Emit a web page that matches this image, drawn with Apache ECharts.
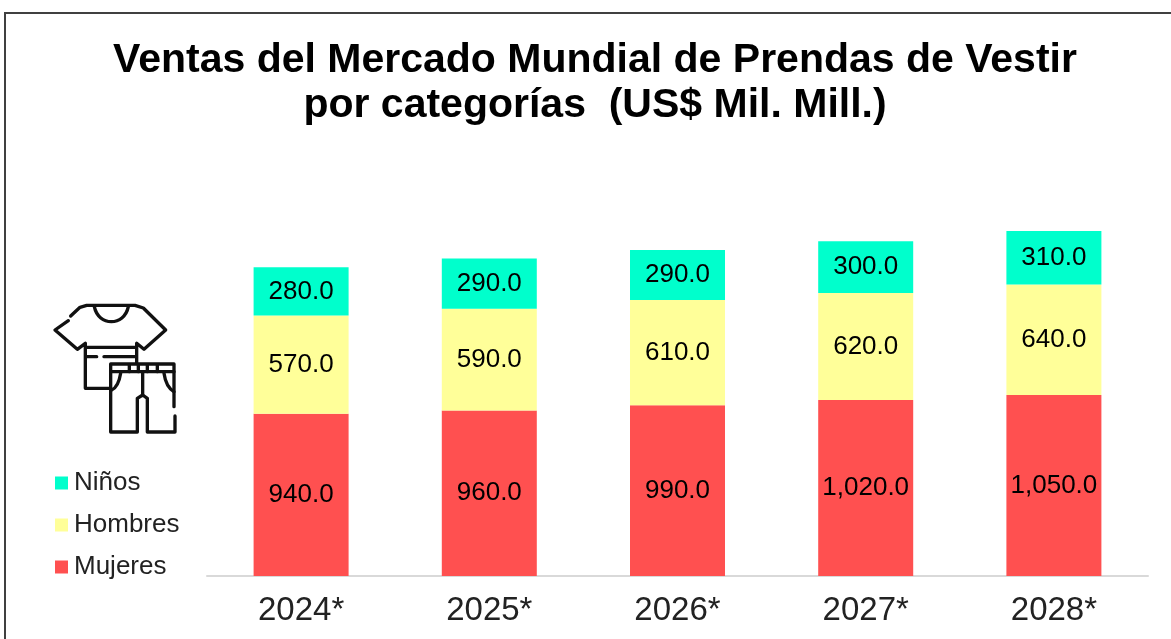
<!DOCTYPE html>
<html><head><meta charset="utf-8">
<style>html,body{margin:0;padding:0;background:#fff}#c{width:1171px;height:639px}</style>
<script src="https://cdn.jsdelivr.net/npm/echarts@6/dist/echarts.min.js"></script></head>
<body><div id="c"></div>
<script>
const categories = ['2024*','2025*','2026*','2027*','2028*'];
const mujeres = [940,960,990,1020,1050];
const hombres = [570,590,610,620,640];
const ninos = [280,290,290,300,310];
const legendOrder = ['Niños','Hombres','Mujeres'];
const titleText = 'Ventas del Mercado Mundial de Prendas de Vestir\npor categorías  (US$ Mil. Mill.)';
const FONT = '"Liberation Sans", Arial, sans-serif';
const iconLines = [
 [[212,108],[240,82],[260,76],[405,76],[430,84],[497,150],[432,208],[410,190],[410,250]],
 [[205,122],[165,150],[232,208],[256,190],[256,325],[330,325]],
 [[258,202],[408,202]],[[258,230],[290,230]],[[312,230],[408,230]],
 [[522,380],[522,252],[332,252],[332,456],[412,456],[412,355],[428,345],[442,355],[442,456],[525,456],[525,408]],
 [[332,275],[522,275]],[[388,255],[388,275]],[[415,255],[415,275]],[[442,255],[442,275]],[[472,255],[472,275]],[[428,275],[428,345]]
];
const iconCurves = [
 {x1:283,y1:80,x2:385,y2:80,cpx1:295,cpy1:140,cpx2:373,cpy2:140},
 {x1:335,y1:330,x2:362,y2:280,cpx1:355,cpy1:322},
 {x1:522,y1:335,x2:492,y2:280,cpx1:498,cpy1:322}
];
const fmt = p => p.value.toLocaleString('en-US',{minimumFractionDigits:1,maximumFractionDigits:1});
const mk = (name,data,color) => ({name,type:'bar',stack:'t',data,barWidth:95,itemStyle:{color},
  label:{show:true,position:'inside',formatter:fmt,color:'#000',fontFamily:FONT,fontSize:26}});
const iconStyle = {stroke:'#111',lineWidth:10,fill:null,lineCap:'round',lineJoin:'round'};
const chart = echarts.init(document.getElementById('c'));
chart.setOption({
  animation:false,
  backgroundColor:'#fff',
  title:{text:titleText,left:590,textAlign:'center',top:33,textStyle:{fontFamily:FONT,fontWeight:'bold',fontSize:41,lineHeight:45,color:'#000'}},
  legend:{orient:'vertical',left:50,top:465,itemWidth:13,itemHeight:13,itemGap:16,icon:'rect',data:legendOrder,
    textStyle:{fontFamily:FONT,fontSize:26,color:'#222',padding:[0,0,0,1]}},
  grid:{left:207,right:23,top:231,bottom:63},
  xAxis:{type:'category',data:categories,axisLine:{lineStyle:{color:'#d9d9d9',width:2}},axisTick:{show:false},
    axisLabel:{fontFamily:FONT,fontSize:33,color:'#222',margin:18}},
  yAxis:{type:'value',min:0,max:2000,show:false,splitLine:{show:false}},
  series:[mk('Mujeres',mujeres,'#ff5050'),mk('Hombres',hombres,'#ffff99'),mk('Niños',ninos,'#00ffcc')],
  graphic:[
    {type:'polyline',shape:{points:[[1171,13],[5,13],[5,639]]},style:{stroke:'#404040',lineWidth:2,fill:null},silent:true},
    {type:'group',x:0,y:280,scaleX:1/3,scaleY:1/3,silent:true,children:[
      ...iconLines.map(points=>({type:'polyline',shape:{points},style:iconStyle})),
      ...iconCurves.map(shape=>({type:'bezierCurve',shape,style:iconStyle}))
    ]}
  ]
});
</script></body></html>
